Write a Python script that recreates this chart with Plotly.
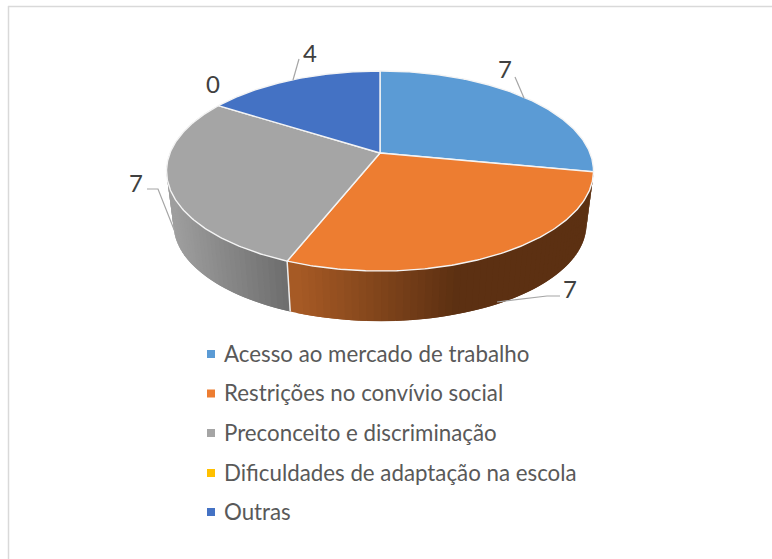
import numpy as np
import plotly.graph_objects as go

categories = ["Acesso ao mercado de trabalho", "Restrições no convívio social",
              "Preconceito e discriminação", "Dificuldades de adaptação na escola", "Outras"]
values = [7, 7, 7, 0, 4]
colors = ["#5B9BD5", "#ED7D31", "#A5A5A5", "#FFC000", "#4472C4"]

W, H = 772, 559
CX, CY, A, B, K = 380, 153, 210, 96.8, 0.18
DEPTH, SCALE = 54, 0.967
FONT = "Lato"


def project(theta, depth=0.0, scale=1.0):
    u, v = np.sin(theta), np.cos(theta)
    d = 1 + K * v
    return CX + scale * A * u / d, CY + depth - scale * B * v / d


def mix(c1, c2, t):
    a = np.array(c1, float)
    b = np.array(c2, float)
    r = a + (b - a) * min(max(t, 0), 1)
    return "rgb(%d,%d,%d)" % tuple(r)


# wall shading: colour stops by horizontal position
wall_shades = {
    1: ((170, 92, 38), (92, 48, 18), 287, 455),
    2: ((158, 158, 158), (108, 108, 108), 172, 288),
}

fig = go.Figure()
total = sum(values)
edges = 2 * np.pi * np.cumsum([0] + values) / total

# side walls: overlapping strips drawn one over the other, so no seams show
for i, (t0, t1) in enumerate(zip(edges[:-1], edges[1:])):
    if i not in wall_shades or t1 <= t0:
        continue
    c1, c2, x0, x1 = wall_shades[i]
    n = 60
    th = np.linspace(t0, t1, n + 1)
    for k in range(n):
        aa = np.linspace(th[max(k - 1, 0)], th[k + 1], 5)
        xt, yt = project(aa)
        xb, yb = project(aa[::-1], DEPTH, SCALE)
        col = mix(c1, c2, (xt.mean() - x0) / (x1 - x0))
        fig.add_trace(go.Scatter(
            x=list(xt) + list(xb) + [xt[0]], y=list(yt) + list(yb) + [yt[0]],
            mode="lines", fill="toself", fillcolor=col,
            line=dict(width=0), hoverinfo="skip", showlegend=False))

# separator between the walls
sep = edges[2]
xa, ya = project(sep)
xb, yb = project(sep, DEPTH, SCALE)
fig.add_trace(go.Scatter(x=[xa, xb], y=[ya, yb], mode="lines",
                         line=dict(color="#EDEDED", width=1.5),
                         hoverinfo="skip", showlegend=False))

# top face
for i, (t0, t1) in enumerate(zip(edges[:-1], edges[1:])):
    if t1 <= t0:
        continue
    th = np.linspace(t0, t1, 160)
    x, y = project(th)
    fig.add_trace(go.Scatter(
        x=[CX] + list(x) + [CX], y=[CY] + list(y) + [CY],
        mode="lines", fill="toself", fillcolor=colors[i],
        line=dict(color="#F4F4F4", width=1.4), name=categories[i],
        hoverinfo="name", showlegend=False))

# leader lines
leaders = [
    ([524, 515], [98, 77]),
    ([497, 547, 560], [302, 296, 296]),
    ([175, 158, 147], [232, 189, 189]),
    ([293, 299], [80, 59]),
]
for lx, ly in leaders:
    fig.add_trace(go.Scatter(x=lx, y=ly, mode="lines",
                             line=dict(color="#A6A6A6", width=1.2),
                             hoverinfo="skip", showlegend=False))

# data labels
label_pos = [(505, 68), (570, 288), (136, 182), (213, 83), (310, 52)]
for v, (lx, ly) in zip(values, label_pos):
    fig.add_annotation(x=lx, y=ly, text=str(v), showarrow=False,
                       font=dict(family=FONT, size=24, color="#404040"))

# legend
rows = [354, 393.5, 433, 473, 512]
fig.add_trace(go.Scatter(x=[211] * 5, y=rows, mode="markers",
                         marker=dict(symbol="square", size=8, color=colors),
                         hoverinfo="skip", showlegend=False))
for c, ry in zip(categories, rows):
    fig.add_annotation(x=222, y=ry - 1, text=c, showarrow=False, xanchor="left",
                       font=dict(family=FONT, size=22.3, color="#595959"))

# chart frame
fig.add_shape(type="line", x0=8, x1=W, y0=6.5, y1=6.5, line=dict(color="#D9D9D9", width=1.5))
fig.add_shape(type="line", x0=8.5, x1=8.5, y0=6, y1=H, line=dict(color="#D9D9D9", width=1.5))

fig.update_layout(
    width=W, height=H, margin=dict(l=0, r=0, t=0, b=0),
    paper_bgcolor="white", plot_bgcolor="white", showlegend=False,
    xaxis=dict(range=[0, W], visible=False, fixedrange=True),
    yaxis=dict(range=[H, 0], visible=False, fixedrange=True),
)
fig.write_html("out.html", config={"displayModeBar": False},
               post_script="document.body.style.margin='0';document.body.style.overflow='hidden';")
